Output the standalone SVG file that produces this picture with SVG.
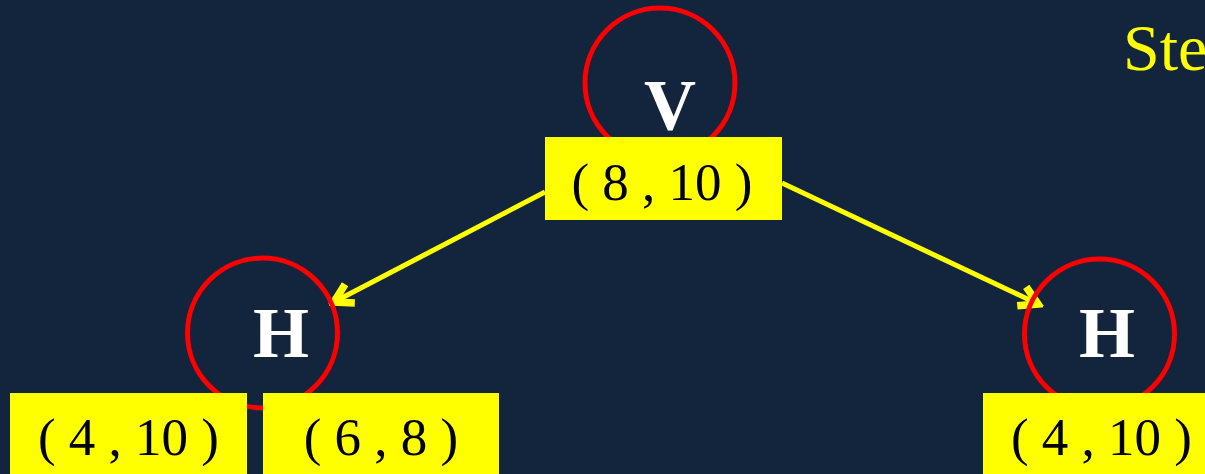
<svg xmlns="http://www.w3.org/2000/svg" width="1205" height="474" viewBox="0 0 1205 474">
  <style>
    .ring { fill: none; stroke: #FF0000; stroke-width: 5; }
    .op { font-family: "Liberation Serif", "Times New Roman", serif; font-weight: bold; font-size: 72px; fill: #FFFFFF; text-anchor: middle; }
    .box { fill: #FFFF00; }
    .lbl { font-family: "Liberation Serif", "Times New Roman", serif; font-size: 53px; fill: #000000; text-anchor: middle; }
    .edge { stroke: #FFFF00; stroke-width: 5; fill: none; }
  </style>
  <defs>
    <marker id="arr" markerUnits="userSpaceOnUse" markerWidth="30" markerHeight="30" viewBox="-16 -10 20 20" refX="0" refY="0" orient="auto">
      <path d="M -12 -7 L 0 0 L -12 7" fill="none" stroke="#FFFF00" stroke-width="5" stroke-linejoin="miter"/>
    </marker>
  </defs>
  <rect width="1205" height="474" fill="#13243D"/>
  <text x="1123" y="70" font-family="Liberation Serif, Times New Roman, serif" font-size="66" fill="#FFFF00">Ste</text>
  <g id="connectors">
    <line class="edge" x1="545" y1="192" x2="334" y2="302" marker-end="url(#arr)"/>
    <line class="edge" x1="782" y1="183" x2="1038" y2="304" marker-end="url(#arr)"/>
  </g>
  <g id="node-root">
    <circle class="ring" cx="660" cy="83" r="75"/>
    <text class="op" x="670" y="129">V</text>
    <rect class="box" x="545" y="137" width="237" height="83"/>
    <text class="lbl" x="662" y="200">( 8 , 10 )</text>
  </g>
  <g id="node-left">
    <circle class="ring" cx="262.5" cy="333" r="75"/>
    <text class="op" x="281" y="357">H</text>
    <rect class="box" x="10" y="393" width="237" height="90"/>
    <text class="lbl" x="128.5" y="455">( 4 , 10 )</text>
    <rect class="box" x="263" y="393" width="236" height="90"/>
    <text class="lbl" x="381" y="455">( 6 , 8 )</text>
  </g>
  <g id="node-right">
    <circle class="ring" cx="1099.5" cy="334" r="75"/>
    <text class="op" x="1107" y="357">H</text>
    <rect class="box" x="983" y="393" width="237" height="90"/>
    <text class="lbl" x="1101.5" y="455">( 4 , 10 )</text>
  </g>
</svg>
